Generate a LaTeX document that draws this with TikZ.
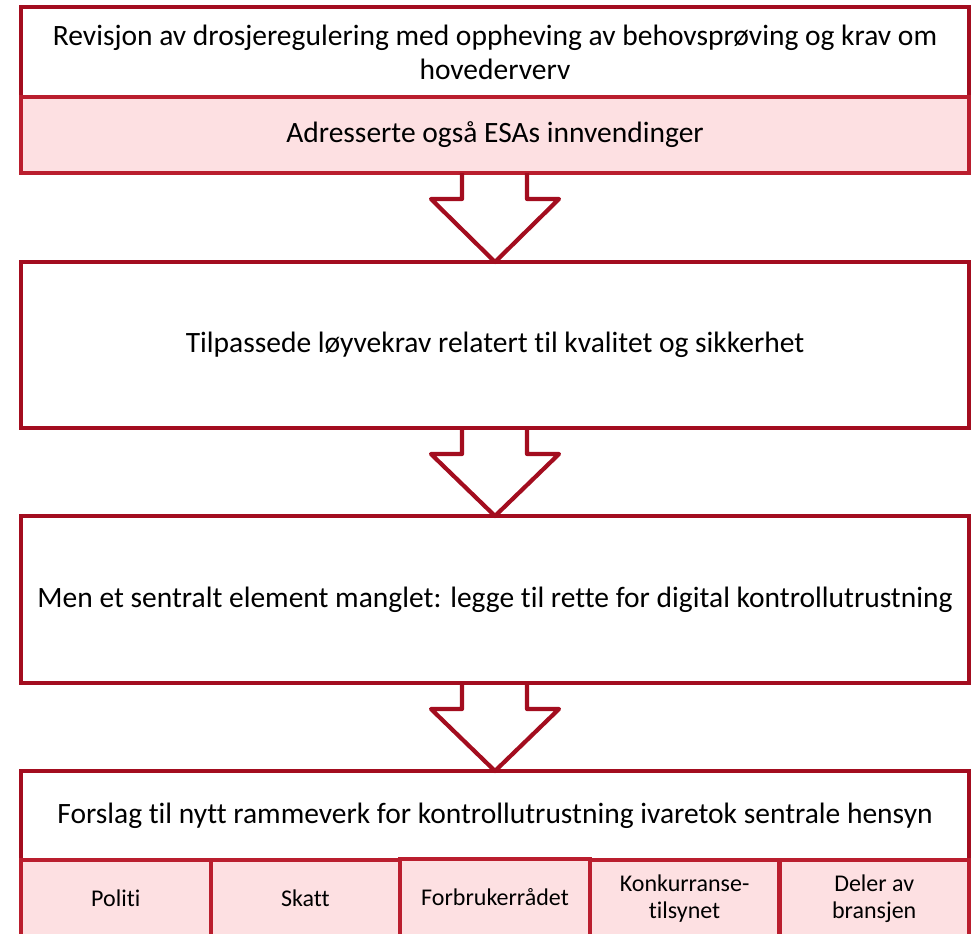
\documentclass[tikz,border=0pt]{standalone}
\usepackage{fontspec}
\setmainfont{Carlito}[Ligatures=NoCommon, RawFeature={-liga;-calt}]
\usetikzlibrary{positioning, calc}
\definecolor{frameRed}{RGB}{163, 13, 31}
\definecolor{cellRed}{RGB}{186, 30, 46}
\definecolor{cellPink}{RGB}{253, 224, 226}
\newcommand{\blockarrow}[2]{%
  \draw[blockarrow] ($(#1.south)+(-33,0)$) -- ++(0,-26) -- ++(-31,0) -- (#2.north)
    -- ($(#1.south)+(64,-26)$) -- ++(-32,0) -- ++(0,26);}

\begin{document}
\begin{tikzpicture}[
    x=1pt, y=1pt,
    box/.style={rectangle, draw=frameRed, line width=4.2pt, outer sep=0pt, inner sep=0pt, minimum width=948pt, align=center, font=\fontsize{29.5}{34}\selectfont},
    whitebox/.style={box, fill=white},
    pinkbox/.style={box, fill=cellPink, draw=cellRed},
    cell/.style={box, fill=cellPink, draw=cellRed, minimum width=189.6pt, minimum height=77pt, font=\fontsize{24}{27}\selectfont},
    blockarrow/.style={draw=frameRed, line width=4.2pt, line join=round}
]
\useasboundingbox (0,0) rectangle (975,-934);

% Step 1
\node[whitebox, minimum height=90pt] (revisjon) at (495,-52) {Revisjon av drosjeregulering med oppheving av behovsprøving og krav om\\hovederverv};
\node[pinkbox, minimum height=76pt, below=0pt of revisjon] (esa) {Adresserte også ESAs innvendinger};

% Step 2
\node[whitebox, minimum height=166pt, below=89pt of esa] (loyve) {Tilpassede løyvekrav relatert til kvalitet og sikkerhet};

% Step 3
\node[whitebox, minimum height=167pt, below=88pt of loyve] (mangel) {Men et sentralt element manglet: legge til rette for digital kontrollutrustning};

% Step 4
\node[whitebox, minimum height=89pt, below=88pt of mangel] (forslag) {Forslag til nytt rammeverk for kontrollutrustning ivaretok sentrale hensyn};

% Actors
\node[cell, anchor=north west] (politi) at (forslag.south west) {Politi};
\node[cell, right=0pt of politi] (skatt) {Skatt};
\node[cell, right=0pt of skatt, yshift=1pt] (forbruker) {Forbrukerrådet};
\node[cell, right=0pt of forbruker, yshift=-1pt] (konkurranse) {Konkurranse-\\tilsynet};
\node[cell, right=0pt of konkurranse] (bransje) {Deler av\\bransjen};

% Arrows
\blockarrow{esa}{loyve}
\blockarrow{loyve}{mangel}
\blockarrow{mangel}{forslag}

\end{tikzpicture}
\end{document}
